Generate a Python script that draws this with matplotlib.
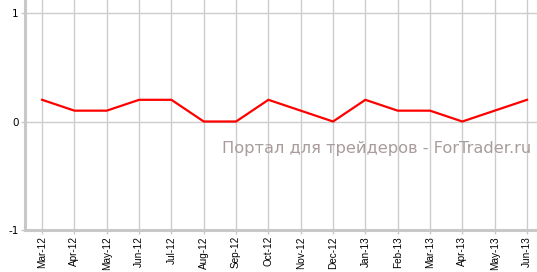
import numpy as np
import matplotlib.pyplot as plt

months = ['Mar-12', 'Apr-12', 'May-12', 'Jun-12', 'Jul-12', 'Aug-12', 'Sep-12', 'Oct-12',
          'Nov-12', 'Dec-12', 'Jan-13', 'Feb-13', 'Mar-13', 'Apr-13', 'May-13', 'Jun-13']
values = [0.2, 0.1, 0.1, 0.2, 0.2, 0.0, 0.0, 0.2, 0.1, 0.0, 0.2, 0.1, 0.1, 0.0, 0.1, 0.2]
yticks = [-1, 0, 1]

W, H = 537, 272
fig = plt.figure(figsize=(W / 100, H / 100), dpi=100)
ax = fig.add_axes([25 / W, (H - 230) / H, 1 - 25 / W, 230 / H])

x = np.arange(len(months))
ax.plot(x, values, color='#ff0000', lw=1.6, zorder=3)

ax.set_xlim(-0.53, 15.31)
ax.set_ylim(-1, 1.12)
ax.set_xticks(x)
ax.set_xticklabels(months, rotation=90, fontsize=7.2, family='Liberation Sans')
ax.set_yticks(yticks)
ax.set_yticklabels([str(t) for t in yticks], fontsize=7.5, family='DejaVu Sans')

ax.grid(True, color='#cccccc', lw=1.0, zorder=0)
ax.set_axisbelow(True)
for s in ['top', 'right']:
    ax.spines[s].set_visible(False)
for s in ['left', 'bottom']:
    ax.spines[s].set_color('#c8c8c8')
    ax.spines[s].set_linewidth(2.2)
ax.tick_params(axis='both', color='#c8c8c8', length=3, width=1, pad=1.5)

# watermark
ax.text(0.385, 0.335, 'Портал для трейдеров - ForTrader.ru', transform=ax.transAxes,
        fontsize=11.7, color='#a89c9c', family='DejaVu Sans', zorder=1)

fig.savefig('out.png', dpi=100)
